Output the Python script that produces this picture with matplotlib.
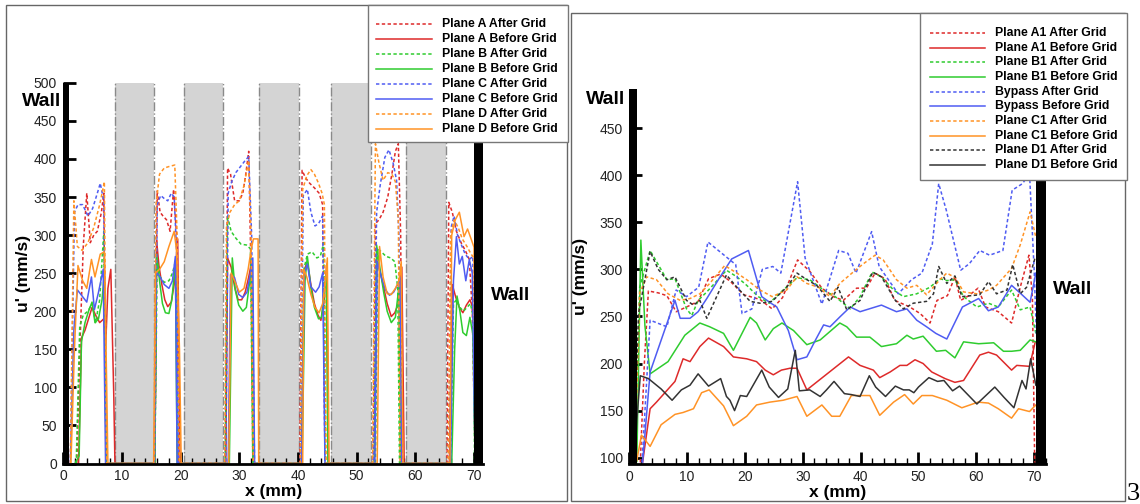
import matplotlib
matplotlib.use("Agg")
import matplotlib.pyplot as plt
import numpy as np
from matplotlib.lines import Line2D
from matplotlib.patches import Rectangle
from matplotlib.ticker import MultipleLocator

plt.rcParams['font.family'] = ['Liberation Sans', 'DejaVu Sans']

W, H = 1140, 504

# ---------------- left chart: planes A-D between the grid bars ----------------
grid_bars = [(8.75, 15.5), (20.5, 27.3), (33.4, 40.1), (45.6, 52.4), (58.4, 65.2)]

a_after_x = [2.3, 2.9, 3.4, 4.0, 4.6, 5.2, 5.8, 6.5, 6.9, 7.3,
             15.6, 16.0, 16.5, 17.0, 17.6, 18.2, 18.8, 19.3, 19.7,
             27.6, 28.0, 28.5, 29.2, 30.0, 30.6, 31.1, 31.6, 32.0, 32.3,
             40.3, 40.7, 41.3, 42.0, 42.8, 43.6, 44.2, 44.6,
             52.8, 53.2, 53.8, 54.5, 55.3, 56.0, 56.6, 57.1, 57.5, 57.8,
             65.4, 65.7, 66.3, 67.0, 67.8, 68.5, 69.2, 69.7, 70.2]
a_after_u = [0, 170, 285, 355, 290, 300, 305, 330, 355, 0,
             0, 358, 330, 325, 320, 305, 360, 300, 0,
             0, 388, 380, 345, 345, 355, 380, 410, 250, 0,
             0, 385, 375, 368, 362, 355, 340, 0,
             0, 315, 320, 330, 350, 380, 410, 420, 300, 0,
             0, 343, 330, 305, 290, 280, 268, 200, 0]

a_before_x = [2.6, 3.1, 3.7, 4.3, 4.9, 5.5, 6.2, 6.9, 7.2, 7.6, 8.1, 8.6, 8.8,
              15.6, 15.9, 16.3, 16.8, 17.3, 17.8, 18.4, 19.0, 19.5, 19.9,
              27.7, 28.0, 28.6, 29.2, 29.8, 30.4, 31.0, 31.6, 32.1, 32.4,
              40.6, 41.1, 41.6, 42.2, 42.8, 43.4, 43.9, 44.4, 44.9, 45.2,
              53.0, 53.4, 53.9, 54.5, 55.2, 55.9, 56.5, 57.1, 57.7, 58.1,
              65.8, 66.3, 66.9, 67.5, 68.1, 68.7, 69.3, 69.8, 70.2, 70.5]
a_before_u = [0, 165, 175, 190, 205, 195, 185, 190, 150, 230, 255, 90, 0,
              0, 293, 260, 235, 215, 206, 212, 240, 295, 0,
              0, 270, 258, 232, 215, 215, 225, 245, 265, 0,
              0, 255, 265, 235, 210, 195, 188, 210, 262, 0,
              0, 268, 255, 235, 210, 193, 198, 210, 258, 0,
              0, 235, 218, 205, 198, 208, 215, 205, 190, 0]

b_after_x = [2.2, 2.8, 3.4, 4.2, 4.9, 5.5, 6.2, 6.9, 7.3,
             15.6, 16.0, 16.5, 17.2, 18.0, 18.6, 19.2, 19.5,
             27.6, 28.0, 28.6, 29.4, 30.3, 31.2, 31.9, 32.3,
             40.6, 41.0, 41.6, 42.4, 43.2, 43.8, 44.4, 44.7,
             53.2, 53.6, 54.2, 55.0, 55.8, 56.5, 57.0, 57.3,
             66.0, 66.5, 67.0, 67.6, 68.2, 68.8, 69.4, 69.9, 70.1]
b_after_u = [0, 180, 195, 200, 210, 185, 215, 305, 0,
             0, 265, 245, 238, 240, 250, 268, 0,
             0, 325, 305, 296, 288, 287, 282, 0,
             0, 255, 275, 278, 270, 272, 290, 0,
             0, 282, 278, 272, 270, 265, 230, 0,
             0, 210, 215, 205, 200, 205, 210, 190, 0]

b_before_x = [2.0, 2.7, 3.1, 3.7, 4.3, 4.9, 5.4, 6.0, 6.6, 7.0, 7.3,
              15.6, 15.9, 16.4, 16.9, 17.4, 18.0, 18.5, 19.1, 19.4,
              28.3, 28.8, 29.3, 29.9, 30.6, 31.2, 31.7, 32.1, 32.4,
              40.7, 41.2, 41.6, 42.2, 42.8, 43.5, 44.0, 44.5, 44.8, 45.1,
              53.0, 53.4, 54.0, 54.6, 55.2, 55.9, 56.6, 57.2, 57.5,
              66.2, 66.7, 67.1, 67.6, 68.1, 68.7, 69.3, 69.8, 70.2]
b_before_u = [0, 10, 160, 185, 200, 212, 185, 190, 215, 250, 0,
              0, 275, 240, 210, 198, 197, 215, 265, 0,
              0, 270, 228, 208, 200, 205, 235, 255, 0,
              0, 240, 272, 230, 205, 190, 192, 228, 250, 0,
              0, 287, 255, 225, 200, 185, 192, 232, 0,
              0, 150, 220, 200, 172, 168, 192, 170, 0]

c_after_x = [1.2, 1.9, 2.5, 3.3, 4.2, 5.0, 5.8, 6.3, 6.9, 7.3,
             15.6, 16.0, 16.6, 17.2, 17.8, 18.4, 18.9, 19.3, 19.6,
             27.7, 28.1, 28.7, 29.4, 30.2, 31.0, 31.6, 32.1, 32.6,
             40.4, 40.9, 41.6, 42.2, 42.9, 43.5, 44.2, 44.6,
             52.9, 53.4, 54.0, 54.8, 55.5, 56.2, 56.8, 57.2, 57.5,
             65.7, 66.1, 66.6, 67.2, 67.8, 68.5, 69.2, 69.8, 70.2]
c_after_u = [0, 330, 340, 340, 325, 335, 355, 368, 345, 0,
             0, 340, 352, 348, 345, 355, 350, 280, 0,
             0, 355, 370, 382, 390, 398, 403, 300, 0,
             0, 352, 360, 330, 312, 315, 325, 0,
             0, 330, 365, 402, 412, 395, 372, 300, 0,
             0, 310, 325, 300, 288, 275, 268, 272, 0]

c_before_x = [1.2, 1.8, 2.4, 3.2, 4.0, 4.8, 5.3, 6.0, 6.8, 7.2,
              15.5, 15.8, 16.5, 17.2, 18.0, 18.6, 19.1, 19.4,
              28.1, 28.5, 29.2, 29.9, 30.6, 31.3, 31.9, 32.3, 32.6,
              40.6, 41.1, 41.6, 42.2, 43.0, 43.6, 44.2, 44.6,
              53.1, 53.5, 54.2, 54.9, 55.6, 56.3, 57.0, 57.4, 57.7,
              66.0, 66.5, 67.0, 67.5, 68.0, 68.6, 69.2, 69.7, 70.2]
c_before_u = [0, 175, 228, 220, 212, 245, 202, 225, 255, 0,
              0, 252, 245, 235, 230, 240, 272, 0,
              0, 248, 244, 222, 218, 225, 250, 270, 0,
              0, 250, 262, 232, 225, 232, 250, 0,
              0, 265, 245, 228, 221, 225, 235, 245, 0,
              0, 240, 298, 262, 272, 240, 268, 250, 0]

d_after_x = [1.2, 1.8, 2.4, 3.2, 4.2, 5.2, 6.2, 7.0, 7.4,
             15.5, 15.8, 16.4, 17.2, 18.0, 19.0, 19.4, 19.8,
             27.5, 27.8, 28.4, 29.2, 30.0, 30.8, 31.6, 32.0, 32.4,
             40.4, 40.8, 41.5, 42.2, 42.8, 43.5, 44.1, 44.5, 44.8,
             52.7, 53.2, 53.8, 54.5, 55.3, 56.0, 56.6, 57.1, 57.4,
             65.6, 66.0, 66.6, 67.3, 68.0, 68.8, 69.5, 70.0, 70.4]
d_after_u = [0, 345, 285, 280, 290, 310, 340, 370, 0,
             0, 340, 380, 388, 390, 392, 300, 0,
             0, 310, 330, 340, 345, 365, 398, 300, 0,
             0, 360, 378, 386, 380, 368, 355, 340, 0,
             0, 420, 395, 372, 382, 380, 370, 320, 0,
             0, 300, 320, 310, 295, 285, 275, 270, 0]

d_before_x = [1.3, 1.9, 2.5, 3.3, 4.0, 4.8, 5.4, 6.3, 7.0, 7.4, 7.6,
              15.4, 15.7, 16.4, 17.2, 18.0, 18.9, 19.3, 19.8, 20.1,
              28.2, 28.6, 29.2, 30.0, 30.8, 31.5, 32.0, 32.4, 33.2, 33.3,
              40.8, 41.0, 41.5, 42.2, 42.9, 43.6, 44.2, 44.7, 45.0, 45.3,
              53.5, 53.9, 54.5, 55.2, 55.9, 56.6, 57.2, 57.6, 57.9,
              65.9, 66.2, 66.8, 67.5, 68.3, 68.9, 69.5, 70.0, 70.3]
d_before_u = [0, 150, 260, 240, 230, 268, 245, 275, 278, 100, 0,
              0, 250, 255, 265, 285, 305, 280, 150, 0,
              0, 250, 240, 225, 230, 255, 280, 295, 295, 0,
              0, 255, 245, 222, 205, 198, 210, 240, 270, 0,
              0, 285, 245, 223, 222, 230, 240, 265, 0,
              0, 300, 320, 330, 298, 308, 295, 284, 0]

left_labels = ['Plane A After Grid', 'Plane A Before Grid', 'Plane B After Grid',
               'Plane B Before Grid', 'Plane C After Grid', 'Plane C Before Grid',
               'Plane D After Grid', 'Plane D Before Grid']

# ---------------- right chart: planes A1-D1 and bypass ----------------
a1_after_x = [1.9, 2.6, 3.3, 5.0, 6.5, 8.1, 9.9, 11.9, 13.7, 15.8, 17.5, 19.8, 22.6, 24.7,
              26.5, 29.1, 31.2, 33.3, 35.3, 37.0, 39.3, 41.0, 42.5, 44.2, 45.9, 48.5,
              50.3, 52.0, 53.2, 55.0, 56.3, 57.3, 58.7, 60.3, 61.6, 63.8, 66.1, 67.6,
              69.1, 69.7, 70.1]
a1_after_u = [95, 200, 277, 275, 272, 255, 260, 266, 290, 295, 287, 273, 268, 258,
              270, 310, 298, 280, 271, 267, 280, 280, 296, 290, 267, 260,
              253, 243, 267, 272, 292, 267, 272, 280, 260, 255, 243, 281,
              315, 270, 95]

a1_before_x = [2.3, 3.6, 4.7, 6.3, 7.9, 9.3, 10.5, 12.2, 13.7, 16.3, 18.0, 20.3, 22.0,
               23.5, 24.9, 26.3, 27.8, 29.0, 30.7, 37.9, 39.9, 42.2, 43.3, 45.1, 46.8,
               48.0, 49.4, 50.8, 52.3, 54.6, 56.3, 57.8, 60.6, 62.1, 63.5, 66.1, 67.0,
               69.2, 70.2]
a1_before_u = [95, 152, 159, 170, 181, 205, 202, 218, 227, 218, 207, 205, 202,
               193, 188, 193, 195, 195, 172, 207, 198, 193, 185, 191, 198,
               198, 204, 200, 191, 184, 180, 182, 209, 212, 209, 193, 198,
               197, 223]

b1_after_x = [1.0, 1.8, 3.6, 5.0, 6.5, 7.9, 9.9, 10.8, 11.9, 13.4, 16.8, 18.6, 20.3,
              22.3, 24.2, 26.6, 29.0, 31.2, 33.6, 35.6, 38.2, 39.9, 42.0, 43.6, 45.7,
              47.4, 49.7, 52.0, 53.7, 54.9, 56.3, 57.8, 60.1, 62.1, 63.8, 66.1, 67.6,
              69.3, 70.3]
b1_after_u = [120, 281, 320, 305, 289, 290, 258, 251, 267, 276, 299, 292, 283,
              271, 264, 278, 291, 289, 278, 271, 258, 271, 297, 292, 278,
              271, 274, 281, 290, 288, 289, 271, 260, 264, 260, 278, 257,
              260, 232]

b1_before_x = [1.3, 2.0, 2.7, 3.6, 6.7, 9.6, 12.2, 13.9, 16.3, 18.0, 20.9, 22.0, 23.5,
               24.9, 26.4, 28.4, 30.7, 33.0, 34.7, 36.4, 37.6, 39.3, 41.6, 43.6, 46.2,
               48.0, 49.1, 50.8, 53.1, 54.7, 56.3, 57.8, 60.4, 63.0, 64.7, 66.1, 67.6,
               69.3, 70.3]
b1_before_u = [96, 331, 240, 189, 202, 230, 243, 239, 232, 214, 249, 243, 225,
               237, 243, 235, 220, 225, 234, 243, 239, 228, 228, 218, 221,
               230, 226, 229, 213, 214, 206, 223, 221, 222, 213, 213, 214,
               225, 223]

bypass_after_x = [2.2, 3.6, 6.5, 8.1, 9.9, 12.0, 13.6, 16.8, 18.4, 19.5, 21.2, 23.0,
                  24.8, 26.2, 29.1, 30.4, 33.3, 36.2, 37.8, 39.2, 41.9, 43.2, 46.5,
                  48.8, 50.6, 52.4, 53.5, 54.8, 57.3, 58.8, 60.6, 62.3, 64.6, 66.2,
                  68.0, 69.2, 70.0, 70.4]
bypass_after_u = [95, 246, 239, 278, 271, 281, 329, 313, 305, 253, 258, 300,
                  303, 296, 393, 312, 263, 320, 317, 296, 340, 303, 274,
                  289, 296, 327, 391, 363, 299, 306, 320, 315, 320, 384,
                  391, 402, 300, 230]

bypass_before_x = [2.3, 3.6, 5.8, 7.9, 8.8, 10.5, 11.9, 13.4, 15.5, 17.7, 20.6, 22.9,
                   24.5, 25.5, 27.5, 29.0, 30.7, 32.2, 33.6, 34.7, 36.5, 38.2, 39.9,
                   43.6, 46.2, 48.0, 49.7, 51.4, 53.0, 54.9, 57.6, 60.4, 62.1, 63.8,
                   66.1, 67.9, 69.3, 70.3]
bypass_before_u = [95, 191, 230, 267, 248, 248, 255, 269, 290, 311, 320, 271,
                   264, 260, 235, 204, 207, 225, 241, 239, 250, 260, 255,
                   262, 255, 258, 246, 239, 232, 226, 260, 269, 256, 260,
                   283, 273, 265, 296]

c1_after_x = [1.2, 1.8, 3.0, 4.7, 6.7, 8.8, 10.5, 12.2, 13.9, 16.5, 18.6, 20.3, 22.6,
              24.7, 27.2, 29.0, 30.7, 32.7, 34.7, 36.4, 38.7, 40.5, 42.5, 43.9, 46.2,
              48.0, 49.7, 51.4, 53.7, 54.9, 56.4, 57.8, 60.1, 62.1, 63.5, 66.1, 67.6,
              69.3, 70.3]
c1_after_u = [150, 275, 292, 289, 274, 267, 269, 274, 285, 304, 296, 289, 278,
              271, 278, 292, 285, 281, 271, 285, 297, 306, 315, 310, 289,
              280, 283, 273, 289, 296, 291, 276, 274, 278, 283, 301, 326,
              361, 334]

c1_before_x = [1.3, 2.1, 3.6, 5.5, 7.9, 9.3, 11.1, 12.5, 13.8, 16.3, 18.0, 20.3, 22.0,
               24.3, 26.6, 29.0, 30.7, 33.3, 35.0, 36.4, 38.4, 41.6, 43.3, 45.7, 47.6,
               49.1, 50.6, 52.4, 54.9, 57.5, 60.3, 62.1, 63.8, 66.1, 67.3, 69.2, 70.3]
c1_before_u = [97, 124, 112, 135, 146, 148, 152, 169, 172, 155, 134, 144, 156,
               159, 161, 165, 144, 156, 144, 144, 166, 166, 145, 159, 167,
               157, 166, 166, 161, 153, 159, 158, 152, 142, 152, 149, 156]

d1_after_x = [1.0, 1.6, 3.6, 5.0, 6.5, 7.9, 9.9, 11.1, 12.2, 13.4, 16.8, 18.6, 20.9,
              22.6, 24.7, 27.2, 29.0, 30.7, 32.4, 34.7, 36.1, 37.6, 39.9, 42.1, 43.6,
              46.0, 47.4, 49.1, 51.4, 52.6, 53.5, 54.9, 56.3, 57.5, 60.6, 62.1, 63.5,
              65.3, 66.3, 67.6, 68.7, 70.2]
d1_after_u = [150, 253, 319, 300, 289, 292, 267, 262, 267, 248, 294, 281, 266,
              264, 266, 281, 296, 289, 283, 266, 281, 257, 267, 297, 292,
              267, 258, 264, 266, 274, 303, 285, 293, 271, 273, 287, 274,
              278, 305, 274, 281, 313]

d1_before_x = [1.0, 1.3, 1.9, 3.3, 5.5, 7.4, 9.0, 10.5, 11.9, 13.7, 15.8, 16.8, 17.4,
               18.2, 19.2, 20.3, 22.9, 24.2, 25.8, 27.4, 28.7, 29.4, 31.2, 33.0, 34.1,
               35.4, 37.2, 38.4, 39.9, 41.5, 42.6, 44.3, 46.0, 47.4, 48.4, 49.2, 50.0,
               51.8, 53.3, 54.4, 55.9, 57.1, 60.1, 63.2, 64.8, 66.5, 67.9, 68.6, 69.4,
               70.3]
d1_before_u = [96, 140, 187, 184, 173, 161, 172, 177, 189, 176, 184, 165, 161,
               150, 166, 165, 193, 175, 164, 173, 214, 171, 172, 165, 172,
               181, 168, 167, 165, 187, 175, 165, 176, 172, 172, 169, 175,
               185, 181, 182, 171, 176, 157, 175, 164, 153, 182, 173, 205,
               177]

right_labels = ['Plane A1 After Grid', 'Plane A1 Before Grid', 'Plane B1 After Grid',
                'Plane B1 Before Grid', 'Bypass After Grid', 'Bypass Before Grid',
                'Plane C1 After Grid', 'Plane C1 Before Grid', 'Plane D1 After Grid',
                'Plane D1 Before Grid']

RED, GREEN, BLUE, ORANGE, BLACK = '#de2a2a', '#2fcc2f', '#4f5cf2', '#ff9326', '#333333'
DOT = (0, (2.2, 1.6))


def fx(px):
    return px / W


def fy(py):
    return 1 - py / H


def style_axes(ax, xmax, ylo, yhi, yticks):
    ax.set_xlim(0, xmax)
    ax.set_ylim(ylo, yhi)
    ax.set_xticks(range(0, 71, 10))
    ax.xaxis.set_minor_locator(MultipleLocator(2))
    ax.set_yticks(yticks)
    for s in ['top', 'right', 'left']:
        ax.spines[s].set_visible(False)
    ax.spines['bottom'].set_linewidth(2)
    ax.spines['bottom'].set_zorder(6)
    ax.tick_params(axis='x', which='major', direction='in', length=9, width=2,
                   labelsize=10, pad=4, labelcolor='#222222')
    ax.tick_params(axis='x', which='minor', direction='in', length=4, width=1)
    ax.tick_params(axis='y', direction='in', length=9, width=2, labelsize=10,
                   pad=4.5, labelcolor='#222222', right=False)
    ax.set_xlabel('x (mm)', fontsize=12.5, fontweight='bold', labelpad=1)
    ax.set_ylabel("u' (mm/s)", fontsize=12.5, fontweight='bold')


def draw_legend(fig, box, x_line, x_text, y0, dy, labels, colors, styles):
    x1, y1, x2, y2 = box
    fig.add_artist(Rectangle((fx(x1), fy(y2)), (x2 - x1) / W, (y2 - y1) / H,
                             transform=fig.transFigure, facecolor='white',
                             edgecolor='#777777', lw=1, zorder=10))
    for i, (lab, c, ls) in enumerate(zip(labels, colors, styles)):
        y = y0 + i * dy
        fig.add_artist(Line2D([fx(x_line[0]), fx(x_line[1])], [fy(y), fy(y)],
                              transform=fig.transFigure, color=c, ls=ls, lw=1.1,
                              zorder=11))
        fig.text(fx(x_text), fy(y), lab, fontsize=8.8, fontweight='bold',
                 va='center', ha='left', zorder=11)


fig = plt.figure(figsize=(W / 100, H / 100), dpi=100)

# panel frames
fig.add_artist(Rectangle((fx(6), fy(501)), 561 / W, 496 / H, transform=fig.transFigure,
                         fill=False, edgecolor='#666666', lw=1, zorder=1))
fig.add_artist(Rectangle((fx(571), fy(501)), 554 / W, 488 / H, transform=fig.transFigure,
                         fill=False, edgecolor='#666666', lw=1, zorder=1))

# ---- left chart ----
ax1 = fig.add_axes([fx(63.3), fy(463.5), 420.1 / W, 380.7 / H])
for lo, hi in grid_bars:
    ax1.axvspan(lo, hi, color='#d4d4d4', lw=0, zorder=0)
    for xe in (lo, hi):
        ax1.axvline(xe, color='#8a8a8a', lw=1, ls='-.', zorder=0.5)

left_series = [(a_after_x, a_after_u), (a_before_x, a_before_u),
               (b_after_x, b_after_u), (b_before_x, b_before_u),
               (c_after_x, c_after_u), (c_before_x, c_before_u),
               (d_after_x, d_after_u), (d_before_x, d_before_u)]
left_colors = [RED, RED, GREEN, GREEN, BLUE, BLUE, ORANGE, ORANGE]
left_styles = [DOT, '-', DOT, '-', DOT, '-', DOT, '-']
for (xs, us), c, ls in zip(left_series, left_colors, left_styles):
    ax1.plot(xs, us, color=c, ls=ls, lw=1.1, zorder=2)

ax1.axvspan(0, 0.9, color='black', lw=0, zorder=5)
ax1.axvspan(70.0, 71.6, color='black', lw=0, zorder=5)
style_axes(ax1, 71.6, 0, 500, range(0, 501, 50))
ax1.yaxis.set_label_coords(-0.076, 0.5)

fig.text(fx(42), fy(101), 'Wall', fontsize=14, fontweight='bold', ha='center', va='center')
fig.text(fx(511), fy(295), 'Wall', fontsize=14, fontweight='bold', ha='center', va='center')

# ---- right chart ----
ax2 = fig.add_axes([fx(629.3), fy(464.3), 416.4 / W, 374.9 / H])
right_series = [(a1_after_x, a1_after_u), (a1_before_x, a1_before_u),
                (b1_after_x, b1_after_u), (b1_before_x, b1_before_u),
                (bypass_after_x, bypass_after_u), (bypass_before_x, bypass_before_u),
                (c1_after_x, c1_after_u), (c1_before_x, c1_before_u),
                (d1_after_x, d1_after_u), (d1_before_x, d1_before_u)]
right_colors = [RED, RED, GREEN, GREEN, BLUE, BLUE, ORANGE, ORANGE, BLACK, BLACK]
right_styles = [DOT, '-', DOT, '-', DOT, '-', DOT, '-', DOT, '-']
for (xs, us), c, ls in zip(right_series, right_colors, right_styles):
    ax2.plot(xs, us, color=c, ls=ls, lw=1.1, zorder=2)

ax2.axvspan(0, 1.3, color='black', lw=0, zorder=5)
ax2.axvspan(70.3, 72, color='black', lw=0, zorder=5)
style_axes(ax2, 72, 93, 491, range(100, 451, 50))
ax2.yaxis.set_label_coords(-0.099, 0.5)

fig.text(fx(606), fy(100), 'Wall', fontsize=14, fontweight='bold', ha='center', va='center')
fig.text(fx(1073), fy(290), 'Wall', fontsize=14, fontweight='bold', ha='center', va='center')

# legends
draw_legend(fig, (368, 5, 568, 142), (376, 432), 442, 24, 15.0,
            left_labels, left_colors, left_styles)
draw_legend(fig, (920, 13, 1127, 180), (930, 985), 995, 33, 14.67,
            right_labels, right_colors, right_styles)

fig.text(fx(1127), fy(500), '3', fontsize=19, family='Liberation Serif',
         ha='left', va='baseline')

fig.savefig('out.png', dpi=100)
